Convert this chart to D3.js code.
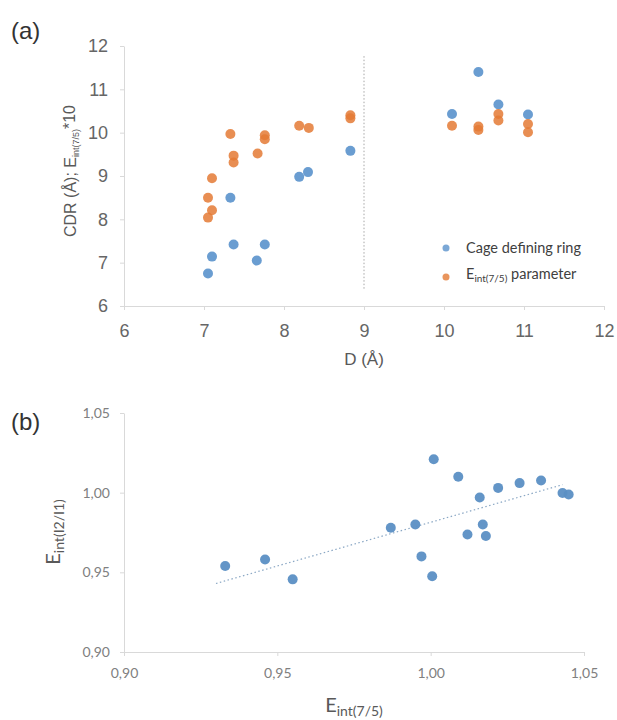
<!DOCTYPE html>
<html>
<head>
<meta charset="utf-8">
<script src="https://cdn.jsdelivr.net/npm/d3@7"></script>
<style>
  html, body { margin: 0; padding: 0; background: #fff; }
  svg { display: block; }
  .axis path, .axis line { stroke: #d9d9d9; }
</style>
</head>
<body>
<svg id="chart" width="617" height="720"></svg>
<script>
// ---- data: panel (a) ----
const ringD   = [7.05, 7.10, 7.33, 7.37, 7.66, 7.76, 8.19, 8.30, 8.83, 10.10, 10.43, 10.68, 11.05];
const ringCDR = [6.75, 7.14, 8.50, 7.42, 7.05, 7.42, 8.98, 9.09, 9.58, 10.43, 11.40, 10.65, 10.42];

const paramD  = [7.05, 7.05, 7.10, 7.10, 7.33, 7.37, 7.37, 7.67, 7.76, 7.76, 8.19, 8.31, 8.83, 8.83, 10.10, 10.43, 10.43, 10.68, 10.68, 11.05, 11.05];
const paramE  = [8.50, 8.04, 8.21, 8.95, 9.97, 9.47, 9.31, 9.52, 9.94, 9.85, 10.16, 10.11, 10.40, 10.33, 10.16, 10.14, 10.06, 10.43, 10.28, 10.20, 10.01];

const ticksA = [6, 7, 8, 9, 10, 11, 12];
const dividerX = 9;
const dividerY = [6.4, 11.8];

// ---- data: panel (b) ----
const e75  = [0.933, 0.946, 0.955, 1.001, 1.009, 1.016, 1.022, 1.029, 1.036, 1.043, 1.045, 0.987, 0.995, 1.017, 1.012, 1.018, 0.997, 1.0005];
const e121 = [0.954, 0.958, 0.9456, 1.021, 1.010, 0.997, 1.003, 1.006, 1.0076, 0.9998, 0.9988, 0.978, 0.980, 0.980, 0.9737, 0.9728, 0.960, 0.9475];
const trendX = [0.930, 1.043];
const trendY = [0.943, 1.005];
const ticksB = [0.90, 0.95, 1.00, 1.05];

const BLUE = '#5a92cc';
const ORANGE = '#e47a35';

const svg = d3.select('#chart');

// ================= panel (a) =================
(function () {
  const x = d3.scaleLinear().domain([6, 12]).range([124, 604]);
  const y = d3.scaleLinear().domain([6, 12]).range([306, 46]);
  const g = svg.append('g');

  g.append('text').attr('x', 11).attr('y', 39)
    .attr('font-family', 'Liberation Sans, Arial, sans-serif')
    .attr('font-size', 24).attr('fill', '#333').text('(a)');

  const xa = g.append('g').attr('class', 'axis')
    .attr('transform', `translate(0,${y(6)})`)
    .call(d3.axisBottom(x).tickValues(ticksA).tickFormat(d3.format('d')).tickSize(4).tickSizeOuter(0).tickPadding(14));
  const ya = g.append('g').attr('class', 'axis')
    .attr('transform', `translate(${x(6)},0)`)
    .call(d3.axisLeft(y).tickValues(ticksA).tickFormat(d3.format('d')).tickSize(4).tickSizeOuter(0).tickPadding(12));
  [xa, ya].forEach(a => a.selectAll('text')
    .attr('font-family', 'Liberation Sans, Arial, sans-serif')
    .attr('font-size', 18).attr('fill', '#666'));

  // dotted divider
  g.append('line')
    .attr('x1', x(dividerX)).attr('x2', x(dividerX))
    .attr('y1', y(dividerY[0])).attr('y2', y(dividerY[1]))
    .attr('stroke', '#a6a6a6').attr('stroke-width', 1).attr('stroke-dasharray', '1.5,2');

  g.append('g').selectAll('circle')
    .data(ringD.map((d, i) => [d, ringCDR[i]]))
    .enter().append('circle')
    .attr('cx', d => x(d[0])).attr('cy', d => y(d[1])).attr('r', 5)
    .attr('fill', BLUE).attr('fill-opacity', 0.9);

  g.append('g').selectAll('circle')
    .data(paramD.map((d, i) => [d, paramE[i]]))
    .enter().append('circle')
    .attr('cx', d => x(d[0])).attr('cy', d => y(d[1])).attr('r', 5)
    .attr('fill', ORANGE).attr('fill-opacity', 0.85);

  // axis titles
  g.append('text').attr('x', 364).attr('y', 365).attr('text-anchor', 'middle')
    .attr('font-family', 'Liberation Sans, Arial, sans-serif')
    .attr('font-size', 17).attr('fill', '#595959').text('D (Å)');

  const yt = g.append('text')
    .attr('transform', 'translate(76,171) rotate(-90)')
    .attr('text-anchor', 'middle')
    .attr('font-family', 'Liberation Sans, Arial, sans-serif')
    .attr('font-size', 16).attr('fill', '#595959');
  yt.append('tspan').text('CDR (Å); E');
  yt.append('tspan').attr('font-size', 9).attr('dy', 3).text('int(7/5)');
  yt.append('tspan').attr('dy', -4).text('*10');

  // legend
  const leg = g.append('g').attr('font-family', 'Lato, Open Sans, sans-serif')
    .attr('font-size', 14.5).attr('fill', '#404040');
  leg.append('circle').attr('cx', 446).attr('cy', 248).attr('r', 3.5).attr('fill', BLUE).attr('fill-opacity', 0.8);
  leg.append('text').attr('x', 466).attr('y', 253).text('Cage defining ring');
  leg.append('circle').attr('cx', 446).attr('cy', 277).attr('r', 3.5).attr('fill', ORANGE).attr('fill-opacity', 0.8);
  const lt = leg.append('text').attr('x', 466).attr('y', 279);
  lt.append('tspan').text('E');
  lt.append('tspan').attr('font-size', 10).attr('dy', 3).text('int(7/5)');
  lt.append('tspan').attr('dy', -3).text(' parameter');
})();

// ================= panel (b) =================
(function () {
  const x = d3.scaleLinear().domain([0.90, 1.05]).range([124, 584]);
  const y = d3.scaleLinear().domain([0.90, 1.05]).range([652, 413]);
  const fmt = d => d3.format('.2f')(d).replace('.', ',');
  const g = svg.append('g');

  g.append('text').attr('x', 11).attr('y', 430)
    .attr('font-family', 'Liberation Sans, Arial, sans-serif')
    .attr('font-size', 24).attr('fill', '#333').text('(b)');

  const xa = g.append('g').attr('class', 'axis')
    .attr('transform', `translate(0,${y(0.90)})`)
    .call(d3.axisBottom(x).tickValues(ticksB).tickFormat(fmt).tickSize(4).tickSizeOuter(0).tickPadding(12));
  const ya = g.append('g').attr('class', 'axis')
    .attr('transform', `translate(${x(0.90)},0)`)
    .call(d3.axisLeft(y).tickValues(ticksB).tickFormat(fmt).tickSize(4).tickSizeOuter(0).tickPadding(10));
  [xa, ya].forEach(a => a.selectAll('text')
    .attr('font-family', 'Lato, Open Sans, sans-serif')
    .attr('font-size', 14).attr('fill', '#808080'));

  // trend line
  g.append('line')
    .attr('x1', x(trendX[0])).attr('y1', y(trendY[0]))
    .attr('x2', x(trendX[1])).attr('y2', y(trendY[1]))
    .attr('stroke', '#8aa7c4').attr('stroke-width', 1.2).attr('stroke-dasharray', '1.5,2.5');

  g.append('g').selectAll('circle')
    .data(e75.map((d, i) => [d, e121[i]]))
    .enter().append('circle')
    .attr('cx', d => x(d[0])).attr('cy', d => y(d[1])).attr('r', 5)
    .attr('fill', '#5b8fc4').attr('fill-opacity', 0.95);

  // axis titles
  const xt = g.append('text').attr('x', 354).attr('y', 712).attr('text-anchor', 'middle')
    .attr('font-family', 'Lato, Open Sans, sans-serif').attr('fill', '#595959');
  xt.append('tspan').attr('font-size', 20).text('E');
  xt.append('tspan').attr('font-size', 14).attr('dy', 4).text('int(7/5)');

  const yt = g.append('text')
    .attr('transform', 'translate(60,532) rotate(-90)')
    .attr('text-anchor', 'middle')
    .attr('font-family', 'Lato, Open Sans, sans-serif').attr('fill', '#595959');
  yt.append('tspan').attr('font-size', 20).text('E');
  yt.append('tspan').attr('font-size', 14).attr('dy', 4).text('int(I2/I1)');
})();
</script>
</body>
</html>
